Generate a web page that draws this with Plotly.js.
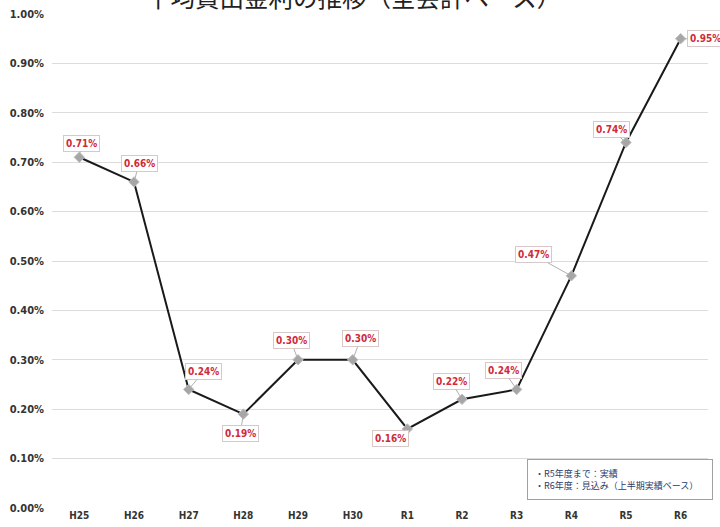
<!DOCTYPE html>
<html>
<head>
<meta charset="utf-8">
<script src="https://cdn.plot.ly/plotly-3.0.1.min.js"></script>
<style>
  html, body { margin: 0; padding: 0; background: #fff; }
  #chart { width: 720px; height: 527px; }
</style>
</head>
<body>
<div id="chart"></div>
<script>
// Fiscal years (Heisei / Reiwa)
const years = ['H25', 'H26', 'H27', 'H28', 'H29', 'H30', 'R1', 'R2', 'R3', 'R4', 'R5', 'R6'];
// Average lending rate, percent
const rates = [0.71, 0.66, 0.24, 0.19, 0.30, 0.30, 0.16, 0.22, 0.24, 0.47, 0.74, 0.95];
// Y axis ticks
const yTicks = [0, 0.1, 0.2, 0.3, 0.4, 0.5, 0.6, 0.7, 0.8, 0.9, 1.0];
const yTickText = yTicks.map(v => v.toFixed(2) + '%');
// Callout offsets (pixels) for each value label
const labelDx = [2, 5, 15, -3, -7, 8, -17, -11, -13, -38, -15, 25];
const labelDy = [-14, -18, -18, 19, -19, -21, 10, -18, -19, -21, -13, 0];
// Chart heading and notes shown in the corner box
const heading = '平均貸出金利の推移（全会計ベース）';
const notes = ['・R5年度まで：実績', '・R6年度：見込み（上半期実績ベース）'];

const tickFont = { family: '"DejaVu Sans Condensed", "Noto Sans CJK JP", sans-serif', size: 11, color: '#333333', weight: 'bold' };

const trace = {
  type: 'scatter',
  mode: 'lines+markers',
  x: years,
  y: rates,
  line: { color: '#1a1a1a', width: 2 },
  marker: { symbol: 'diamond', size: 8, color: '#a6a6a6', line: { color: '#bfbfbf', width: 1 } },
  hoverinfo: 'skip'
};

const annotations = years.map((yr, i) => ({
  x: yr,
  y: rates[i],
  xref: 'x',
  yref: 'y',
  text: rates[i].toFixed(2) + '%',
  showarrow: true,
  arrowhead: 0,
  arrowwidth: 1,
  arrowcolor: '#b0b0b0',
  ax: labelDx[i],
  ay: labelDy[i],
  font: { family: '"DejaVu Sans Condensed", sans-serif', size: 10, color: '#d02a3a', weight: 'bold' },
  bgcolor: '#ffffff',
  bordercolor: '#d9c8c8',
  borderwidth: 1,
  borderpad: 2,
  standoff: 3
}));

// Notes box in the lower right corner
annotations.push({
  xref: 'paper',
  yref: 'paper',
  x: 1.008,
  y: 0.016,
  xanchor: 'right',
  yanchor: 'bottom',
  text: notes.join('<br>'),
  align: 'left',
  showarrow: false,
  font: { family: '"Noto Sans CJK JP", sans-serif', size: 9, color: '#2b3a6b' },
  bgcolor: '#ffffff',
  bordercolor: '#a0a0a0',
  borderwidth: 1,
  borderpad: 7,
  width: 170
});

// Heading sits above the top edge of the page
annotations.push({
  xref: 'paper',
  yref: 'paper',
  x: 0.46,
  y: 1.036,
  xanchor: 'center',
  yanchor: 'middle',
  text: heading,
  showarrow: false,
  font: { family: '"Noto Sans CJK JP", sans-serif', size: 24.5, color: '#222222' }
});

const layout = {
  width: 720,
  height: 527,
  paper_bgcolor: '#ffffff',
  plot_bgcolor: '#ffffff',
  margin: { l: 52, r: 12, t: 14, b: 19 },
  showlegend: false,
  xaxis: {
    type: 'category',
    range: [-0.5, 11.5],
    showgrid: false,
    zeroline: false,
    showline: false,
    ticks: '',
    tickfont: { ...tickFont, size: 10 },
    ticklabelstandoff: 0
  },
  yaxis: {
    range: [0, 1.0],
    tickvals: yTicks,
    ticktext: yTickText,
    showgrid: true,
    gridcolor: '#dcdcdc',
    gridwidth: 1,
    zeroline: false,
    showline: false,
    ticks: '',
    tickfont: tickFont,
    ticklabelstandoff: 7
  },
  annotations: annotations
};

Plotly.newPlot('chart', [trace], layout, { displayModeBar: false, staticPlot: true });
</script>
</body>
</html>
